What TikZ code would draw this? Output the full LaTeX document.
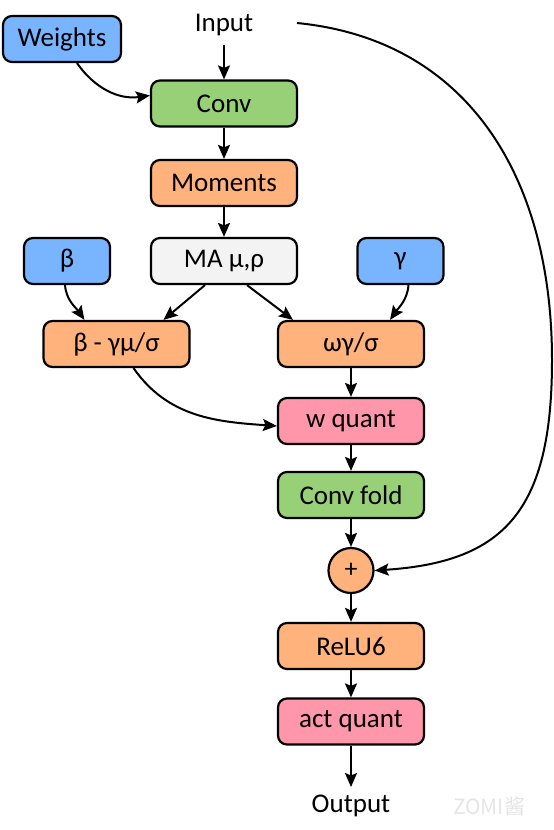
\documentclass[tikz,border=0pt]{standalone}
\usepackage{fontspec}
\setmainfont{Carlito}
\newfontfamily\cjkfont{Noto Sans CJK SC}
\usetikzlibrary{arrows.meta}
\definecolor{cblue}{HTML}{78B4FF}
\definecolor{cgreen}{HTML}{97D077}
\definecolor{corange}{HTML}{FFB27C}
\definecolor{cpink}{HTML}{FF96AA}
\definecolor{cgrey}{HTML}{F3F3F3}
\tikzset{
  base/.style={draw=black, line width=2.2pt, rounded corners=9pt, minimum height=46pt, inner sep=0pt,
    font=\fontsize{27}{32}\selectfont},
  wide/.style={base, minimum width=146pt},
  bluebox/.style={base, fill=cblue},
  sumnode/.style={draw=black, line width=2.2pt, circle, minimum size=45pt, inner sep=0pt, fill=corange,
    font=\fontsize{26}{30}\selectfont},
  lbl/.style={font=\fontsize{27}{32}\selectfont, inner sep=0pt},
  arr/.style={line width=2pt, -{Stealth[length=14pt,width=12pt,inset=2.5pt]}}
}
\begin{document}
\begin{tikzpicture}[x=1pt,y=-1pt]
\useasboundingbox[fill=white] (0,0) rectangle (554,830);
\node[lbl] (input) at (224,25) {Input};
\node[bluebox, minimum width=118pt] (weights) at (62,39) {Weights};
\node[wide, fill=cgreen] (conv) at (224,103.5) {Conv};
\node[wide, fill=corange] (moments) at (224,183) {Moments};
\node[wide, fill=cgrey] (ma) at (224,261) {MA μ,ρ};
\node[bluebox, minimum width=86pt] (beta) at (67,261) {β};
\node[bluebox, minimum width=86pt] (gamma) at (400.5,261) {γ};
\node[wide, fill=corange] (bg) at (116.5,344) {β - γμ/σ};
\node[wide, fill=corange] (wg) at (351,344) {ωγ/σ};
\node[wide, fill=cpink] (wq) at (351,421) {w quant};
\node[wide, fill=cgreen] (cf) at (351,495) {Conv fold};
\node[sumnode] (plus) at (351,570.5) {+};
\node[wide, fill=corange] (relu) at (351,646) {ReLU6};
\node[wide, fill=cpink] (aq) at (351,721.5) {act quant};
\node[lbl] (output) at (351,806) {Output};
\node[font=\cjkfont\fontsize{21}{24}\selectfont, text=black!10, inner sep=0pt] (wm) at (489,806) {ZOMI酱};
\coordinate (instart) at (297,23);
\coordinate (inright) at (552,360);
\coordinate (outend) at (351,787);

\draw[arr] (input.south |- 0,45) -- (conv.north);
\draw[arr] (conv) -- (moments);
\draw[arr] (moments) -- (ma);
\draw[arr] ([xshift=15pt]weights.south) to[out=-55,in=188] ([yshift=8pt]conv.west);
\draw[arr] ([xshift=-19pt]ma.south) -- ([xshift=47pt]bg.north);
\draw[arr] ([xshift=23pt]ma.south) -- ([xshift=-58pt]wg.north);
\draw[arr] ([xshift=-2pt]beta.south) to[out=-85,in=125] ([xshift=-32pt]bg.north);
\draw[arr] ([xshift=8pt]gamma.south) to[out=-95,in=55] ([xshift=39pt]wg.north);
\draw[arr] ([xshift=17pt]bg.south) to[out=-55,in=176] ([yshift=-5pt]wq.west);
\draw[arr] (wg) -- (wq);
\draw[arr] (wq) -- (cf);
\draw[arr] (cf) -- (plus);
\draw[arr] (plus) -- (relu);
\draw[arr] (relu) -- (aq);
\draw[arr] (aq.south) -- (outend);
\draw[arr] (instart) .. controls (470,40) and (552,180) .. (inright)
  .. controls (552,510) and (505,562) .. (plus.east);
\end{tikzpicture}
\end{document}
